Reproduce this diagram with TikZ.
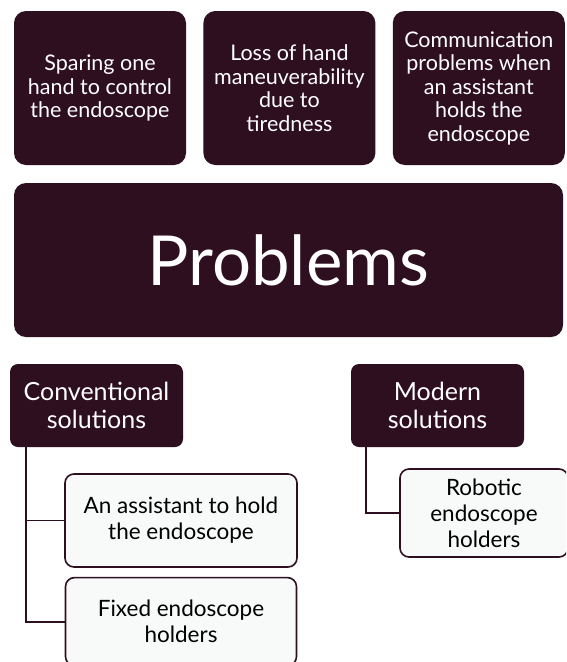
\documentclass[tikz,border=0pt]{standalone}
\usepackage{fontspec}
\setmainfont{Lato}
\usepackage{xcolor}
\usetikzlibrary{positioning}

\definecolor{plum}{RGB}{46,15,32}
\definecolor{paper}{RGB}{248,249,249}

\begin{document}
\begin{tikzpicture}[
    x=1pt, y=-1pt,
    issue/.style={fill=plum, text=white, rounded corners=12pt, align=center,
        minimum width=172pt, minimum height=154pt, inner sep=1pt,
        font=\fontsize{21.5}{23.5}\selectfont},
    head/.style={fill=plum, text=white, rounded corners=8pt, align=center,
        minimum width=173pt, minimum height=83pt,
        font=\fontsize{25}{28}\selectfont},
    leaf/.style={draw=plum, line width=1.6pt, fill=paper, rounded corners=9pt, align=center,
        minimum height=88pt, font=\fontsize{22.5}{26}\selectfont},
    link/.style={draw=plum, line width=1.8pt},
    node distance=17pt,
]
\useasboundingbox (0,0) rectangle (566,662);
\clip (0,0) rectangle (566,662);

% problems
\node[issue] (spare) at (100,88) {Sparing one\\hand to control\\the endoscope};
\node[issue, right=of spare] (loss) {Loss of hand\\maneuverability\\due to\\tiredness};
\node[issue, right=of loss] (talk) {Communication\\problems when\\an assistant\\holds the\\endoscope};
\node[issue, minimum width=549pt, font=\fontsize{69}{70}\selectfont] (prob) at (288.5,260) {Problems};

% solutions
\node[head] (conv) at (96.5,405.5) {Conventional\\solutions};
\node[head] (modern) at (437.5,405.5) {Modern\\solutions};

\node[leaf, minimum width=232pt, minimum height=93pt] (assist) at (181,520.5) {An assistant to hold\\the endoscope};
\node[leaf, minimum width=231pt, below=9pt of assist] (fixed) {Fixed endoscope\\holders};
\node[leaf, minimum width=168pt] (robot) at (484,513) {Robotic\\endoscope\\holders};

\draw[link] ([xshift=16pt]conv.south west) |- (assist.west);
\draw[link] ([xshift=16pt]conv.south west) |- (fixed.west);
\draw[link] ([xshift=15pt]modern.south west) |- (robot.west);
\end{tikzpicture}
\end{document}
